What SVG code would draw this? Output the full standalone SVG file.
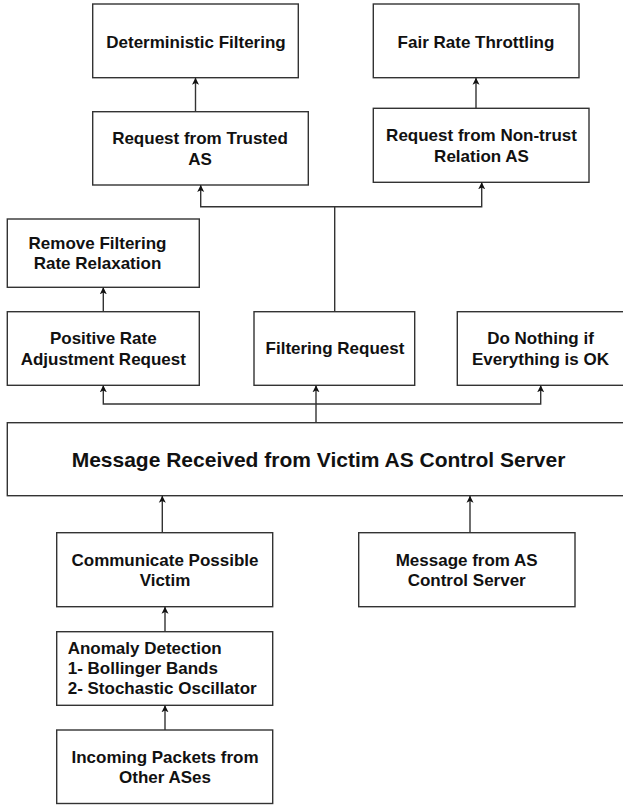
<svg xmlns="http://www.w3.org/2000/svg" width="623" height="805" viewBox="0 0 623 805">
<style>
.box{fill:#fff;stroke:#333;stroke-width:1.4}
.t{font-family:"Liberation Sans",Arial,sans-serif;font-weight:bold;font-size:17px;fill:#111;text-anchor:middle}
.tl{text-anchor:start}
.big{font-size:21px}
.c{fill:none;stroke:#333;stroke-width:1.4}
</style>
<defs>
<marker id="arr" markerWidth="9" markerHeight="9" refX="7" refY="4" orient="auto" markerUnits="userSpaceOnUse">
<path d="M0,0.5 L7,4 L0,7.5 L1.8,4 z" fill="#111"/>
</marker>
</defs>
<g id="n-det"><rect class="box" x="92.7" y="4" width="205.6" height="73.7"/><text class="t" x="196" y="47.7">Deterministic Filtering</text></g>
<g id="n-fair"><rect class="box" x="373.3" y="4" width="205.7" height="73.7"/><text class="t" x="476" y="47.7">Fair Rate Throttling</text></g>
<g id="n-trusted"><rect class="box" x="92.7" y="111.7" width="215.6" height="73.3"/><text class="t" x="200" y="144">Request from Trusted</text><text class="t" x="200" y="164.5">AS</text></g>
<g id="n-nontrust"><rect class="box" x="373.3" y="108.3" width="215.7" height="74"/><text class="t" x="481.5" y="141">Request from Non-trust</text><text class="t" x="481.5" y="161.5">Relation AS</text></g>
<g id="n-remove"><rect class="box" x="7.3" y="219" width="192" height="68.3"/><text class="t" x="97.5" y="249">Remove Filtering</text><text class="t" x="97.5" y="269">Rate Relaxation</text></g>
<g id="n-positive"><rect class="box" x="7.3" y="311.7" width="192" height="73.6"/><text class="t" x="103.3" y="344">Positive Rate</text><text class="t" x="103.3" y="364.5">Adjustment Request</text></g>
<g id="n-filtreq"><rect class="box" x="254" y="311.7" width="160.7" height="73.6"/><text class="t" x="335" y="354">Filtering Request</text></g>
<g id="n-donothing"><rect class="box" x="457.3" y="311.7" width="167" height="73.6"/><text class="t" x="540.5" y="344">Do Nothing if</text><text class="t" x="540.5" y="364.5">Everything is OK</text></g>
<g id="n-main"><rect class="box" x="7.3" y="422.7" width="623" height="73"/><text class="t big" x="318.5" y="466.7">Message Received from Victim AS Control Server</text></g>
<g id="n-comm"><rect class="box" x="56.7" y="532.7" width="216" height="74"/><text class="t" x="165" y="566">Communicate Possible</text><text class="t" x="165" y="586">Victim</text></g>
<g id="n-msgas"><rect class="box" x="358.7" y="532.7" width="216.3" height="74"/><text class="t" x="466.7" y="566">Message from AS</text><text class="t" x="466.7" y="586">Control Server</text></g>
<g id="n-anomaly"><rect class="box" x="56.7" y="631.7" width="216" height="73.6"/><text class="t tl" x="67.7" y="654">Anomaly Detection</text><text class="t tl" x="67.7" y="674">1- Bollinger Bands</text><text class="t tl" x="67.7" y="694">2- Stochastic Oscillator</text></g>
<g id="n-incoming"><rect class="box" x="56.7" y="730" width="216" height="73.5"/><text class="t" x="165" y="763">Incoming Packets from</text><text class="t" x="165" y="783">Other ASes</text></g>
<g id="connectors">
<path class="c" d="M195.5,111.7 V77.7" marker-end="url(#arr)"/>
<path class="c" d="M476,108.3 V77.7" marker-end="url(#arr)"/>
<path class="c" d="M334.7,311.7 V206.7 H200.7 V185" marker-end="url(#arr)"/>
<path class="c" d="M334.7,206.7 H481.7 V182.3" marker-end="url(#arr)"/>
<path class="c" d="M103.3,311.7 V287.3" marker-end="url(#arr)"/>
<path class="c" d="M316,422.7 V404 H103.3 V385.3" marker-end="url(#arr)"/>
<path class="c" d="M316,404 V385.3" marker-end="url(#arr)"/>
<path class="c" d="M316,404 H540.7 V385.3" marker-end="url(#arr)"/>
<path class="c" d="M162.3,532.7 V495.7" marker-end="url(#arr)"/>
<path class="c" d="M470,532.7 V495.7" marker-end="url(#arr)"/>
<path class="c" d="M165,631.7 V606.7" marker-end="url(#arr)"/>
<path class="c" d="M165,730 V705.3" marker-end="url(#arr)"/>
</g>
</svg>
